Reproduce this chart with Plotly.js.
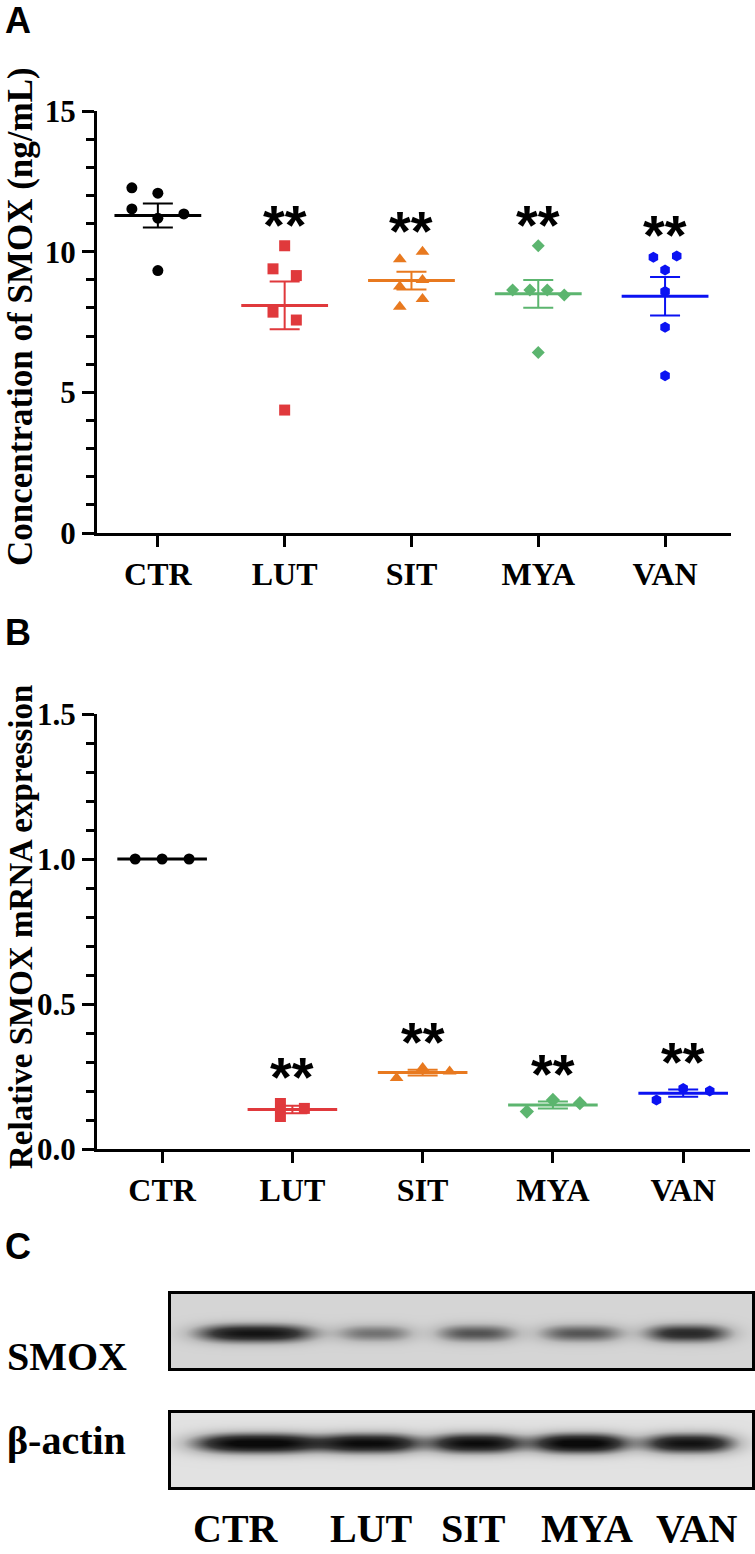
<!DOCTYPE html>
<html>
<head>
<meta charset="utf-8">
<script src="https://cdn.plot.ly/plotly-3.0.1.min.js"></script>
<style>html,body{margin:0;padding:0;background:#fff;}#chart{width:755px;height:1554px;}</style>
</head>
<body>
<div id="chart"></div>
<script>
// ---------------- DATA ----------------
const categories = ['CTR', 'LUT', 'SIT', 'MYA', 'VAN'];

// Panel A: Concentration of SMOX (ng/mL), n = 6 per group
const concCTR = [12.27, 12.08, 11.52, 11.19, 11.34, 9.33];
const concLUT = [10.21, 9.39, 9.15, 7.85, 7.57, 4.37];
const concSIT = [9.73, 10.00, 8.76, 8.99, 8.32, 8.04];
const concMYA = [10.21, 8.64, 8.64, 8.64, 8.46, 6.42];
const concVAN = [9.80, 9.85, 9.35, 8.58, 7.31, 5.59];

// Panel B: Relative SMOX mRNA expression, n = 3 per group
const mrnaCTR = [1.00, 1.00, 1.00];
const mrnaLUT = [0.157, 0.112, 0.140];
const mrnaSIT = [0.245, 0.279, 0.267];
const mrnaMYA = [0.129, 0.169, 0.158];
const mrnaVAN = [0.169, 0.209, 0.200];

// Panel C: western blot band darkness (0 = none, 1 = saturated)
const smoxBand = [0.78, 0.36, 0.46, 0.45, 0.64];
const actinBand = [0.97, 0.90, 0.90, 0.97, 0.86];

// ---------------- STYLE / LAYOUT CONSTANTS ----------------
const colors = ['#000000', '#e0393c', '#e8791f', '#5cb56f', '#0b12f2'];
const symbols = ['circle', 'square', 'triangle-up', 'diamond', 'hexagon'];
const msizeA = [11, 11, 12, 10, 11];
const msizeB = [11, 11, 12, 11, 11];
// horizontal scatter offsets (category units)
const jitA = [
  [-0.205, 0, -0.205, 0, 0.205, 0],
  [0, -0.092, 0.092, -0.092, 0.092, 0],
  [-0.092, 0.087, -0.092, 0.087, 0.087, -0.092],
  [0, -0.202, -0.066, 0.071, 0.205, 0],
  [-0.092, 0.092, 0, 0, 0, 0]
];
const jitB = [
  [-0.207, 0, 0.207],
  [-0.092, -0.092, 0.092],
  [-0.2, 0, 0.207],
  [-0.2, 0, 0.207],
  [-0.205, 0, 0.204]
];
const serif = 'Liberation Serif, Times New Roman, serif';
const sans = 'Liberation Sans, Arial, sans-serif';
const W = 755, H = 1554;
const px = v => v / W, py = v => 1 - v / H;

const groupsA = [concCTR, concLUT, concSIT, concMYA, concVAN];
const groupsB = [mrnaCTR, mrnaLUT, mrnaSIT, mrnaMYA, mrnaVAN];

function mean(a) { return a.reduce((s, v) => s + v, 0) / a.length; }
function sem(a) {
  const m = mean(a);
  const sd = Math.sqrt(a.reduce((s, v) => s + (v - m) * (v - m), 0) / (a.length - 1));
  return sd / Math.sqrt(a.length);
}

const traces = [];
function addPanel(groups, jit, msize, xa, ya, meanW, capW) {
  groups.forEach((vals, g) => {
    traces.push({
      type: 'scatter', mode: 'markers', xaxis: xa, yaxis: ya,
      x: vals.map((v, i) => g + jit[g][i]), y: vals,
      marker: { symbol: symbols[g], size: msize[g], color: colors[g], line: { width: 0 } },
      hoverinfo: 'skip', showlegend: false
    });
  });
  groups.forEach((vals, g) => {
    traces.push({
      type: 'scatter', mode: 'markers', xaxis: xa, yaxis: ya,
      x: [g], y: [mean(vals)],
      marker: { symbol: 'line-ew', size: meanW, color: colors[g], line: { width: 3, color: colors[g] } },
      error_y: { type: 'data', array: [sem(vals)], visible: true, color: colors[g], thickness: 2, width: capW },
      hoverinfo: 'skip', showlegend: false
    });
  });
}
addPanel(groupsA, jitA, msizeA, 'x', 'y', 62, 15);
addPanel(groupsB, jitB, msizeB, 'x2', 'y2', 64, 15);

// ---- western blot heatmaps ----
const laneX = [255, 375, 476, 581, 687];
const smoxHalfW = [58, 38, 40, 42, 42];
const actinLaneX = [259, 372, 476, 580, 689];
const actinHalfW = [66, 48, 46, 48, 46];
function blot(intens, centers, halfW, bandY, bandS, bg) {
  const xs = [], ys = [], z = [];
  for (let x = 171; x <= 752; x += 3) xs.push(x);
  for (let y = 0; y <= 74; y += 2) ys.push(y);
  ys.forEach(y => {
    const row = [];
    xs.forEach(x => {
      let d = 0;
      intens.forEach((k, i) => {
        const dx = (x - centers[i]) / halfW[i];
        const dy = (y - bandY) / bandS;
        d += k * Math.exp(-Math.pow(Math.abs(dx), 3)) * Math.exp(-dy * dy);
      });
      row.push(Math.min(1, bg + d));
    });
    z.push(row);
  });
  return { xs, ys, z };
}
const b1 = blot(smoxBand, laneX, smoxHalfW, 39, 9, 0.17);
const b2 = blot(actinBand, actinLaneX, actinHalfW, 30, 10, 0.1);
const greys = [[0, '#f4f4f4'], [0.3, '#bdbdbd'], [0.7, '#3a3a3a'], [1, '#0a0a0a']];
traces.push({ type: 'heatmap', xaxis: 'x3', yaxis: 'y3', x: b1.xs, y: b1.ys, z: b1.z, zmin: 0, zmax: 1,
  colorscale: greys, showscale: false, zsmooth: 'best', hoverinfo: 'skip' });
traces.push({ type: 'heatmap', xaxis: 'x4', yaxis: 'y4', x: b2.xs, y: b2.ys, z: b2.z, zmin: 0, zmax: 1,
  colorscale: greys, showscale: false, zsmooth: 'best', hoverinfo: 'skip' });

// ---------------- AXES ----------------
const tickFont = { family: serif, size: 31, color: '#000', weight: 'bold' };
function catAxis(domain, range, anchor) {
  return {
    domain: domain, range: range, anchor: anchor, showgrid: false, zeroline: false,
    showline: true, linecolor: '#000', linewidth: 3,
    tickmode: 'array', tickvals: [0, 1, 2, 3, 4], ticktext: categories,
    ticks: 'outside', ticklen: 11, tickwidth: 3, tickcolor: '#000',
    tickfont: { family: serif, size: 32, color: '#000', weight: 'bold' },
    fixedrange: true
  };
}
function valAxis(domain, range, dtick, minor, fmt, anchor) {
  return {
    domain: domain, range: range, anchor: anchor, showgrid: false, zeroline: false,
    showline: true, linecolor: '#000', linewidth: 3,
    tickmode: 'linear', tick0: 0, dtick: dtick, tickformat: fmt,
    ticks: 'outside', ticklen: 12, tickwidth: 3, tickcolor: '#000',
    minor: { dtick: minor, ticks: 'outside', ticklen: 8, tickwidth: 3, tickcolor: '#000', showgrid: false },
    tickfont: tickFont, fixedrange: true
  };
}
function blotAxis(domain, range, anchor) {
  return { domain: domain, range: range, anchor: anchor, showgrid: false, zeroline: false,
    showticklabels: false, ticks: '', showline: true, mirror: true, linecolor: '#000', linewidth: 3, fixedrange: true };
}

const annotations = [];
function label(text, x, y, size, family, opts) {
  annotations.push(Object.assign({ text: text, x: px(x), y: py(y), xref: 'paper', yref: 'paper',
    showarrow: false, font: { family: family, size: size, color: '#000', weight: 'bold' },
    xanchor: 'center', yanchor: 'middle' }, opts || {}));
}
label('A', 18, 20, 36, sans);
label('B', 18, 633, 36, sans);
label('C', 18, 1246, 36, sans);
label('Concentration of SMOX (ng/mL)', 21, 317, 35, serif, { textangle: -90 });
label('Relative SMOX mRNA expression', 21, 927, 33, serif, { textangle: -90 });
label('SMOX', 5, 1356, 40, serif, { xanchor: 'left' });
label('β-actin', 5, 1440, 40, serif, { xanchor: 'left' });
const blotLabelX = [236, 371, 473, 587, 697];
categories.forEach((c, i) => label(c, blotLabelX[i], 1553, 40, serif, { yanchor: 'bottom' }));

// significance stars above the highest point in each treated group
const starFont = { family: sans, size: 56, color: '#000', weight: 'bold' };
groupsA.forEach((vals, g) => {
  if (g === 0) return;
  annotations.push({ text: '**', x: g, y: Math.max(...vals) + 1.26, xref: 'x', yref: 'y', showarrow: false,
    font: starFont, xanchor: 'center', yanchor: 'middle', yshift: -14 });
});
groupsB.forEach((vals, g) => {
  if (g === 0) return;
  annotations.push({ text: '**', x: g, y: Math.max(...vals) + 0.14, xref: 'x2', yref: 'y2', showarrow: false,
    font: starFont, xanchor: 'center', yanchor: 'middle', yshift: -14 });
});

const layout = {
  width: W, height: H, margin: { l: 0, r: 0, t: 0, b: 0 },
  paper_bgcolor: '#fff', plot_bgcolor: 'rgba(0,0,0,0)', showlegend: false,
  xaxis: catAxis([px(97), px(731)], [-0.48, 4.52], 'y'),
  yaxis: valAxis([py(533), py(111)], [0, 15], 5, 1, 'd', 'x'),
  xaxis2: catAxis([px(97), px(750)], [-0.5, 4.513], 'y2'),
  yaxis2: valAxis([py(1149), py(714)], [0, 1.5], 0.5, 0.1, '.1f', 'x2'),
  xaxis3: blotAxis([px(171), px(752)], [171, 752], 'y3'),
  yaxis3: blotAxis([py(1368), py(1294)], [74, 0], 'x3'),
  xaxis4: blotAxis([px(171), px(752)], [171, 752], 'y4'),
  yaxis4: blotAxis([py(1487), py(1413)], [74, 0], 'x4'),
  annotations: annotations
};

Plotly.newPlot('chart', traces, layout, { staticPlot: true, displayModeBar: false });
</script>
</body>
</html>
